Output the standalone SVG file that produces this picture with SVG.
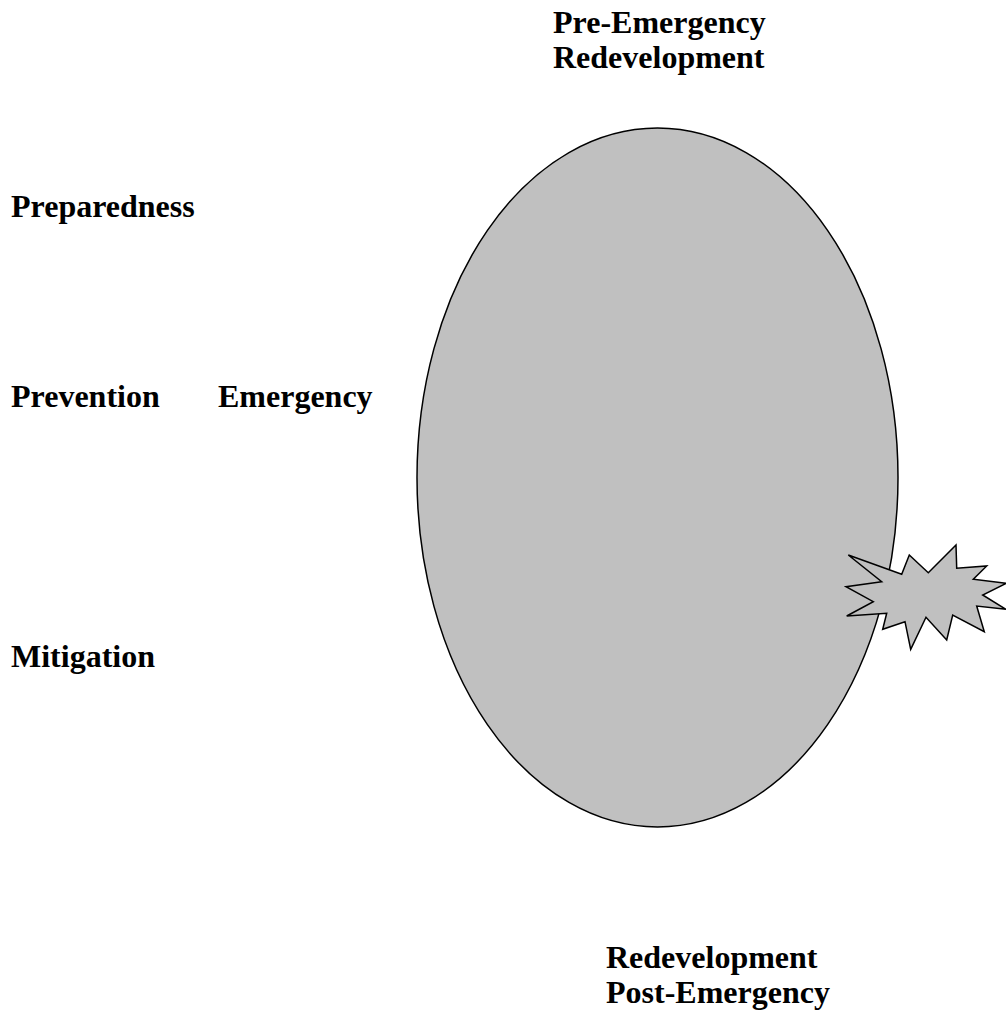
<svg xmlns="http://www.w3.org/2000/svg" width="1006" height="1012" viewBox="0 0 1006 1012">
<style>
.t{font-family:"Liberation Serif","Times New Roman",serif;font-weight:bold;font-size:32px;fill:#000}
.s{fill:#c0c0c0;stroke:#000;stroke-width:1.5}
</style>
<rect width="1006" height="1012" fill="#fff"/>
<g id="cycle">
<ellipse class="s" cx="657.5" cy="477.5" rx="240.5" ry="349.5"/>
</g>
<g id="burst">
<polygon class="s" stroke-linejoin="miter" points="848.3,555 901.7,574.3 909.3,555 928.3,572.7 956,545 956.7,568.3 986.7,566 973.3,579.3 1006,583.3 982.7,595 1006,609.3 976.7,606 984.3,631.7 952.7,615 946.7,640 926,617.3 910.7,649.3 905,621.7 882.7,629.3 886.7,613.3 846.7,616 873.3,601.7 846,586.7 881.7,581.7"/>
</g>
<g id="labels">
<text class="t" x="553" y="33">Pre-Emergency</text>
<text class="t" x="553" y="68">Redevelopment</text>
<text class="t" x="11" y="217">Preparedness</text>
<text class="t" x="11" y="407">Prevention</text>
<text class="t" x="218" y="407">Emergency</text>
<text class="t" x="11" y="667">Mitigation</text>
<text class="t" x="606" y="968">Redevelopment</text>
<text class="t" x="606" y="1003">Post-Emergency</text>
</g>
</svg>
